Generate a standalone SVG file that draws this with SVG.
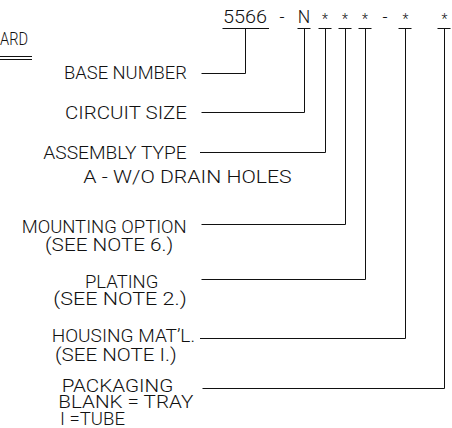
<svg xmlns="http://www.w3.org/2000/svg" width="452" height="428" viewBox="0 0 452 428">
<style>
  text { font-family: Roboto, "Liberation Sans", Arial, sans-serif; font-weight: 300; font-size: 17.5px; fill: #111; }
  .ln { stroke: #111; stroke-width: 1; fill: none; }
  .c { text-anchor: middle; }
  .ast { font-size: 14px; }
</style>
<rect width="452" height="428" fill="#fff"/>
<g id="title">
  <text x="0" y="45" textLength="28" lengthAdjust="spacingAndGlyphs">ARD</text>
  <line class="ln" x1="0" y1="56.5" x2="32" y2="56.5"/>
  <line class="ln" x1="0" y1="59.5" x2="32" y2="59.5"/>
</g>
<g id="part-number">
  <text x="223" y="22.5" textLength="44" lengthAdjust="spacingAndGlyphs">5566</text>
  <text class="c" x="282" y="22.5">-</text>
  <text class="c" x="304" y="22.5">N</text>
  <text class="c ast" x="325" y="24">*</text>
  <text class="c ast" x="345" y="24">*</text>
  <text class="c ast" x="365" y="24">*</text>
  <text class="c" x="385" y="22.5">-</text>
  <text class="c ast" x="405.5" y="24">*</text>
  <text class="c ast" x="444.5" y="24">*</text>
  <line class="ln" x1="222.5" y1="28.5" x2="269" y2="28.5"/>
  <line class="ln" x1="297.5" y1="28.5" x2="310.5" y2="28.5"/>
  <line class="ln" x1="318.5" y1="28.5" x2="331.5" y2="28.5"/>
  <line class="ln" x1="338.5" y1="28.5" x2="351.5" y2="28.5"/>
  <line class="ln" x1="358.5" y1="28.5" x2="371.5" y2="28.5"/>
  <line class="ln" x1="398.5" y1="28.5" x2="411.5" y2="28.5"/>
  <line class="ln" x1="437.5" y1="28.5" x2="450.5" y2="28.5"/>
</g>
<g id="base-number">
  <text x="64" y="79.3" textLength="123" lengthAdjust="spacingAndGlyphs">BASE NUMBER</text>
</g>
<g id="circuit-size">
  <text x="65" y="119.3" textLength="122" lengthAdjust="spacingAndGlyphs">CIRCUIT SIZE</text>
</g>
<g id="assembly-type">
  <text x="43.3" y="159.3" textLength="143.4" lengthAdjust="spacingAndGlyphs">ASSEMBLY TYPE</text>
  <text x="83.3" y="183.3" textLength="208.4" lengthAdjust="spacingAndGlyphs">A - W/O DRAIN HOLES</text>
</g>
<g id="mounting-option">
  <text x="21.7" y="233.3" textLength="165" lengthAdjust="spacingAndGlyphs">MOUNTING OPTION</text>
  <text x="45" y="251" textLength="128.3" lengthAdjust="spacingAndGlyphs">(SEE NOTE 6.)</text>
</g>
<g id="plating">
  <text x="85" y="287.7" textLength="73.3" lengthAdjust="spacingAndGlyphs">PLATING</text>
  <text x="53.3" y="305" textLength="133.4" lengthAdjust="spacingAndGlyphs">(SEE NOTE 2.)</text>
</g>
<g id="housing-material">
  <text x="51.7" y="342.3" textLength="143.3" lengthAdjust="spacingAndGlyphs">HOUSING MAT’L.</text>
  <text x="55" y="360.5" textLength="121.7" lengthAdjust="spacingAndGlyphs">(SEE NOTE I.)</text>
</g>
<g id="packaging">
  <text x="61.7" y="391.7" textLength="111.6" lengthAdjust="spacingAndGlyphs">PACKAGING</text>
  <text x="58.3" y="408.3" textLength="135" lengthAdjust="spacingAndGlyphs">BLANK = TRAY</text>
  <text x="60" y="425" textLength="65" lengthAdjust="spacingAndGlyphs">I =TUBE</text>
</g>
<g id="connectors">
  <polyline class="ln" points="245.5,28.5 245.5,73.5 201.5,73.5"/>
  <polyline class="ln" points="304.5,28.5 304.5,112.5 201.5,112.5"/>
  <polyline class="ln" points="325.5,28.5 325.5,152.5 200,152.5"/>
  <polyline class="ln" points="345.5,28.5 345.5,224.5 201.5,224.5"/>
  <polyline class="ln" points="365.5,28.5 365.5,279.5 201.5,279.5"/>
  <polyline class="ln" points="405.5,28.5 405.5,338.5 200,338.5"/>
  <polyline class="ln" points="444.5,28.5 444.5,388.5 202.5,388.5"/>
</g>
</svg>
